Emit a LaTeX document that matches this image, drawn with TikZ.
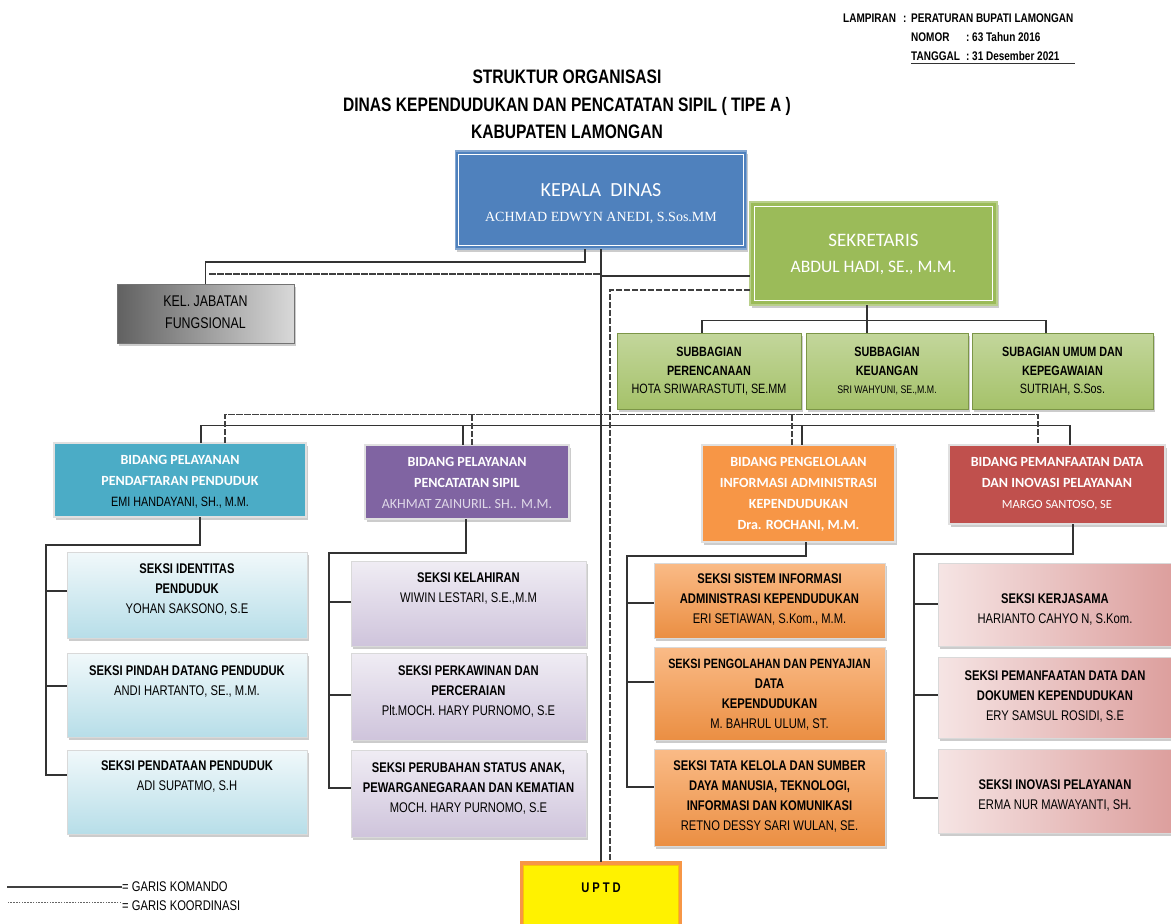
\documentclass[tikz,border=0pt]{standalone}
\usepackage{fontspec}
\setmainfont[FakeStretch=0.8]{Liberation Sans}
\newfontfamily\carlito{Carlito}
\newfontfamily\serifnama{Liberation Serif}
\usetikzlibrary{shadows}

\definecolor{kdbiru}{HTML}{4F81BD}
\definecolor{sekhijau}{HTML}{9BBB59}
\definecolor{bidteal}{HTML}{4BACC6}
\definecolor{bidungu}{HTML}{8064A2}
\definecolor{bidoranye}{HTML}{F79646}
\definecolor{bidmerah}{HTML}{C0504D}

\begin{document}
\begin{tikzpicture}[x=1pt, y=-1pt, line cap=rect]
  \useasboundingbox (0,0) rectangle (1171,924);

  % gaya garis dan kotak
  \tikzset{
    komando/.style={draw=black!80, line width=1.1pt},
    koordinasi/.style={draw=black!75, line width=1.1pt, dash pattern=on 5pt off 3pt},
    kotak/.style={inner sep=0pt, drop shadow={shadow xshift=1.5pt, shadow yshift=-2.5pt, fill=black!40, opacity=.5}},
    kepala/.style={kotak, fill=kdbiru, draw=kdbiru!70!white, line width=1.5pt, text=white,
      font=\carlito\fontsize{20}{25}\selectfont},
    sekre/.style={kotak, fill=sekhijau, draw=sekhijau!70!white, line width=1.5pt, text=white,
      font=\carlito\fontsize{19}{26}\selectfont},
    jabfung/.style={kotak, left color=black!62, right color=black!15, draw=black!55, line width=.8pt,
      font=\fontsize{15.5}{22}\selectfont},
    subbag/.style={kotak, top color=sekhijau!60!white, bottom color=sekhijau!90!white, draw=sekhijau!80!black,
      line width=.5pt, font=\fontsize{13.5}{18.5}\selectfont},
    bidang/.style={kotak, draw=black!12, line width=1.5pt, text=white,
      font=\carlito\bfseries\fontsize{14}{21}\selectfont},
    seksi/.style={kotak, draw=black!15, line width=.6pt, font=\fontsize{14}{20}\selectfont},
    seksibiru/.style={seksi, top color=bidteal!8!white, bottom color=bidteal!40!white},
    seksiungu/.style={seksi, top color=bidungu!12!white, bottom color=bidungu!38!white},
    seksioranye/.style={seksi, top color=bidoranye!65!white, bottom color=bidoranye!95!black},
    seksimerah/.style={seksi, left color=bidmerah!15!white, right color=bidmerah!55!white},
    uptd/.style={kotak, fill=yellow, draw=bidoranye, line width=3.5pt,
      font=\bfseries\fontsize{14}{18}\selectfont},
    judul/.style={align=center, inner sep=0pt, font=\bfseries\fontsize{19.5}{27.5}\selectfont},
    lampiran/.style={anchor=base west, inner sep=0pt, font=\bfseries\fontsize{12.5}{18}\selectfont},
    legenda/.style={anchor=west, inner sep=1pt, font=\fontsize{14}{16}\selectfont}
  }

  % kotak dengan teks rata atas
  \def\petak#1#2#3#4#5#6#7#8{%
    \node[#2, minimum width=#5pt, minimum height=#6pt] (#1) at (#3,#4)
      {\parbox[c][#6pt][t]{#5pt}{\centering\vspace*{#7pt}#8}};
  }

  % lampiran
  \node[lampiran] (lp1) at (843,22.5) {LAMPIRAN};
  \node[lampiran] (lp1t) at (903,22.5) {:};
  \node[lampiran] (lp1v) at (911,22.5) {PERATURAN BUPATI LAMONGAN};
  \node[lampiran] (lp2) at (911,41.5) {NOMOR};
  \node[lampiran] (lp2t) at (966,41.5) {:};
  \node[lampiran] (lp2v) at (972,41.5) {63 Tahun 2016};
  \node[lampiran] (lp3) at (911,60) {TANGGAL};
  \node[lampiran] (lp3t) at (966,60) {:};
  \node[lampiran] (lp3v) at (972,60) {31 Desember 2021};
  \draw[line width=1pt, black!80] ([yshift=-3pt]lp3.base west) -- ([yshift=-3pt, xshift=15pt]lp3v.base east);

  % judul
  \node[judul] (jd) at (567,104.5)
    {STRUKTUR ORGANISASI\\DINAS KEPENDUDUKAN DAN PENCATATAN SIPIL ( TIPE A )\\KABUPATEN LAMONGAN};

  % pimpinan
  \petak{kd}{kepala}{601}{200}{291}{98}{32.5}
    {KEPALA\ \ DINAS\\{\serifnama\fontsize{14}{25}\selectfont ACHMAD EDWYN ANEDI, S.Sos.MM}}
  \petak{sk}{sekre}{873.5}{253.5}{247}{103}{32}
    {SEKRETARIS\\{\fontsize{17.5}{26}\selectfont ABDUL HADI, SE., M.M.}}
  \draw[white, line width=1.2pt] ([shift={(4,4)}]kd.north west) rectangle ([shift={(-4,-4)}]kd.south east);
  \draw[white, line width=1.2pt] ([shift={(5,5)}]sk.north west) rectangle ([shift={(-5,-5)}]sk.south east);

  \petak{jf}{jabfung}{205.5}{313.5}{177}{59}{12}{KEL. JABATAN\\FUNGSIONAL}

  % subbagian
  \petak{sb1}{subbag}{709}{371}{184}{76}{14.5}
    {\textbf{SUBBAGIAN}\\\textbf{PERENCANAAN}\\HOTA SRIWARASTUTI, SE.MM}
  \petak{sb2}{subbag}{887}{371}{162}{76}{14.5}
    {\textbf{SUBBAGIAN}\\\textbf{KEUANGAN}\\{\fontsize{11}{18.5}\selectfont SRI WAHYUNI, SE.,M.M.}}
  \petak{sb3}{subbag}{1062.5}{371}{181}{76}{14.5}
    {\textbf{SUBAGIAN UMUM DAN}\\\textbf{KEPEGAWAIAN}\\SUTRIAH, S.Sos.}

  % bidang
  \petak{b1}{bidang, fill=bidteal}{180}{480}{252}{74}{12.5}
    {BIDANG PELAYANAN\\PENDAFTARAN PENDUDUK\\{\normalfont\color{black}\fontsize{13.5}{21}\selectfont EMI HANDAYANI, SH., M.M.}}
  \petak{b2}{bidang, fill=bidungu}{467}{482}{204}{74}{12.5}
    {BIDANG PELAYANAN\\PENCATATAN SIPIL\\{\mdseries\color{bidungu!25!white}AKHMAT ZAINURIL. SH.. M.M.}}
  \petak{b3}{bidang, fill=bidoranye}{798.5}{493.5}{193}{97}{12}
    {BIDANG PENGELOLAAN\\INFORMASI ADMINISTRASI\\KEPENDUDUKAN\\Dra. ROCHANI, M.M.}
  \petak{b4}{bidang, fill=bidmerah}{1057}{484.5}{216}{79}{12}
    {BIDANG PEMANFAATAN DATA\\DAN INOVASI PELAYANAN\\{\mdseries\fontsize{12.5}{21}\selectfont MARGO SANTOSO, SE}}

  % seksi bidang pendaftaran
  \petak{l1}{seksibiru}{187}{595}{240}{86}{12}
    {\textbf{SEKSI IDENTITAS}\\\textbf{PENDUDUK}\\YOHAN SAKSONO, S.E}
  \petak{l2}{seksibiru}{187}{695}{240}{84}{13}
    {\textbf{SEKSI PINDAH DATANG PENDUDUK}\\ANDI HARTANTO, SE., M.M.}
  \petak{l3}{seksibiru}{187}{792}{240}{84}{11}
    {\textbf{SEKSI PENDATAAN PENDUDUK}\\ADI SUPATMO, S.H}

  % seksi bidang pencatatan sipil
  \petak{p1}{seksiungu}{468.5}{603.5}{235}{85}{12}
    {\textbf{SEKSI KELAHIRAN}\\WIWIN LESTARI, S.E.,M.M}
  \petak{p2}{seksiungu}{468.5}{696.5}{235}{87}{13}
    {\textbf{SEKSI PERKAWINAN DAN}\\\textbf{PERCERAIAN}\\Plt.MOCH. HARY PURNOMO, S.E}
  \petak{p3}{seksiungu}{468.5}{793.5}{235}{87}{13}
    {\textbf{SEKSI PERUBAHAN STATUS ANAK,}\\\textbf{PEWARGANEGARAAN DAN KEMATIAN}\\MOCH. HARY PURNOMO, S.E}

  % seksi bidang pengelolaan informasi
  \petak{o1}{seksioranye}{769.5}{600.5}{231}{75}{11}
    {\textbf{SEKSI SISTEM INFORMASI}\\\textbf{ADMINISTRASI KEPENDUDUKAN}\\ERI SETIAWAN, S.Kom., M.M.}
  \petak{o2}{seksioranye}{769.5}{693.5}{231}{93}{12}
    {{\fontsize{13.5}{19.5}\selectfont\textbf{SEKSI PENGOLAHAN DAN PENYAJIAN}}\\\textbf{DATA}\\\textbf{KEPENDUDUKAN}\\M. BAHRUL ULUM, ST.}
  \petak{o3}{seksioranye}{769.5}{797.5}{231}{97}{12}
    {\textbf{SEKSI TATA KELOLA DAN SUMBER}\\\textbf{DAYA MANUSIA, TEKNOLOGI,}\\\textbf{INFORMASI DAN KOMUNIKASI}\\RETNO DESSY SARI WULAN, SE.}

  % seksi bidang pemanfaatan data
  \petak{r1}{seksimerah}{1055}{604.5}{234}{83}{31}
    {\textbf{SEKSI KERJASAMA}\\HARIANTO CAHYO N, S.Kom.}
  \petak{r2}{seksimerah}{1055}{697.5}{234}{81}{14}
    {\textbf{SEKSI PEMANFAATAN DATA DAN}\\\textbf{DOKUMEN KEPENDUDUKAN}\\ERY SAMSUL ROSIDI, S.E}
  \petak{r3}{seksimerah}{1055}{791}{234}{84}{31}
    {\textbf{SEKSI INOVASI PELAYANAN}\\ERMA NUR MAWAYANTI, SH.}

  % uptd
  \petak{up}{uptd}{601}{895}{159}{64}{20}{U\hspace{3pt}P\hspace{3pt}T\hspace{3pt}D}
  \draw[yellow!55!orange, line width=.8pt] ([shift={(4,4)}]up.north west) rectangle ([shift={(-4,-4)}]up.south east);

  % garis komando
  \draw[komando] (kd.south) -- (up.north);
  \draw[komando] (kd.south -| 585,0) |- (jf.north |- 0,262) -- (jf.north);
  \draw[komando] (kd.south |- 0,276) -- (sk.west |- 0,276);
  \draw[komando] (sk.south -| 867,0) -- (sb2.north -| 867,0);
  \draw[komando] (sb1.north -| 702,0) -- ++(0,-12) -| (sb3.north -| 1046,0);
  \draw[komando] (b1.north -| 201,0) -- ++(0,-17) -| (b4.north -| 1070,0);
  \draw[komando] (b2.north -| 463,0) -- (463,426);
  \draw[komando] (b3.north -| 802,0) -- (802,426);

  \draw[komando] (b1.south -| 200,0) -- (200,545) -| (46,775) -- (l3.west |- 0,775);
  \draw[komando] (46,591) -- (l1.west |- 0,591);
  \draw[komando] (46,686) -- (l2.west |- 0,686);

  \draw[komando] (b2.south -| 466,0) -- (466,553) -| (329,788) -- (p3.west |- 0,788);
  \draw[komando] (329,602) -- (p1.west |- 0,602);
  \draw[komando] (329,695) -- (p2.west |- 0,695);

  \draw[komando] (b3.south -| 806,0) -- (806,556) -| (627,787) -- (o3.west |- 0,787);
  \draw[komando] (627,603) -- (o1.west |- 0,603);
  \draw[komando] (627,682) -- (o2.west |- 0,682);

  \draw[komando] (b4.south -| 1073,0) -- (1073,554) -| (914,798) -- (r3.west |- 0,798);
  \draw[komando] (914,604) -- (r1.west |- 0,604);
  \draw[komando] (914,695) -- (r2.west |- 0,695);

  % garis koordinasi
  \draw[koordinasi] (210,274) -- (kd.south |- 0,274);
  \draw[koordinasi] (sk.west |- 0,290) -| ([xshift=9pt]up.north);
  \draw[koordinasi] (b1.north -| 225,0) -- ++(0,-28) -| (b4.north -| 1038,0);
  \draw[koordinasi] (b2.north -| 472,0) -- (472,415);
  \draw[koordinasi] (b3.north -| 792,0) -- (792,415);

  % keterangan
  \node[legenda] (lgk) at (121,887) {= GARIS KOMANDO};
  \node[legenda] (lgd) at (121,906) {= GARIS KOORDINASI};
  \draw[black!75, line width=2pt] (8,887) -- (lgk.west);
  \draw[black!60, line width=.8pt, dotted] (8,902) -- (lgd.west |- 0,902);

\end{tikzpicture}
\end{document}
